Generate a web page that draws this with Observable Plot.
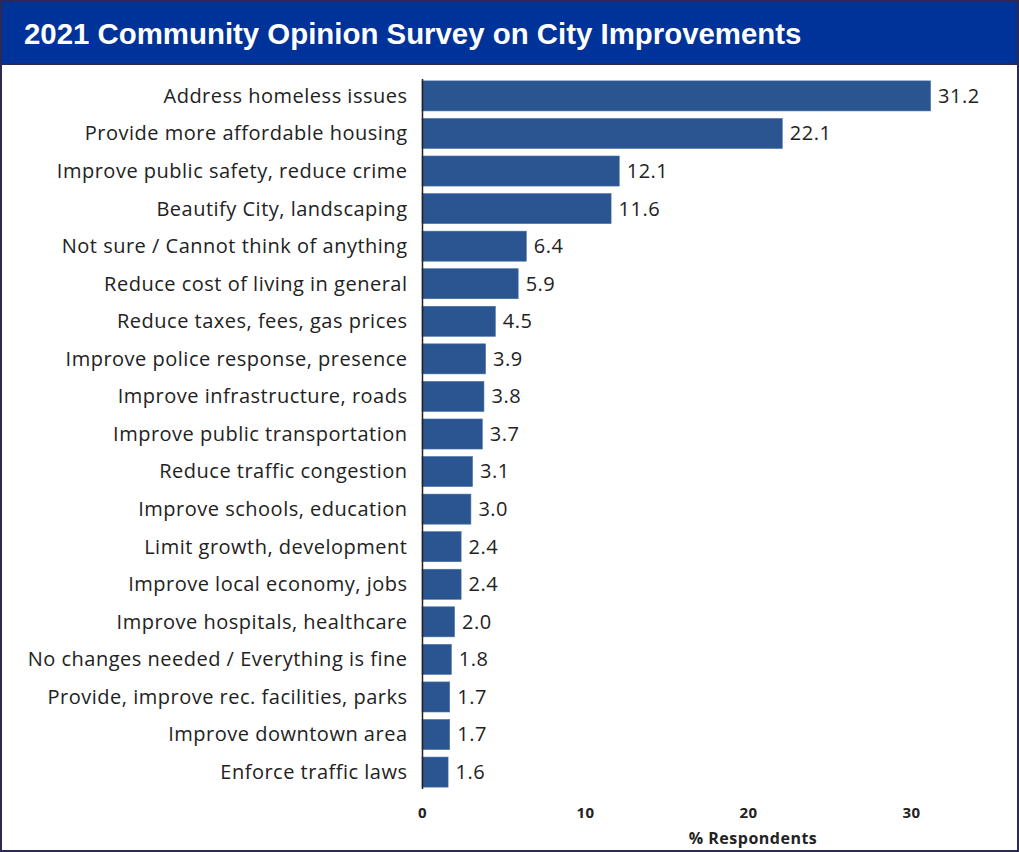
<!DOCTYPE html>
<html>
<head>
<meta charset="utf-8">
<script src="https://cdn.jsdelivr.net/npm/d3@7"></script>
<script src="https://cdn.jsdelivr.net/npm/@observablehq/plot@0.6"></script>
<style>
  html, body { margin: 0; padding: 0; background: #fff; }
  #frame {
    position: relative;
    width: 1015px; height: 848px;
    border: 2px solid #2b2a55;
    overflow: hidden;
    background: #fff;
  }
  #title {
    height: 61px;
    background: #003399;
    border-bottom: 2px solid #2b2a55;
    color: #fff;
    font-family: "Liberation Sans", Arial, sans-serif;
    font-weight: bold;
    font-size: 29.4px;
    line-height: 63px;
    padding-left: 22px;
    box-sizing: content-box;
  }
  #chart svg { display: block; }
  #chart svg text { letter-spacing: 0.5px; }
</style>
</head>
<body>
<div id="frame">
  <div id="title">2021 Community Opinion Survey on City Improvements</div>
  <div id="chart"></div>
</div>
<script>
const categories = [
  "Address homeless issues",
  "Provide more affordable housing",
  "Improve public safety, reduce crime",
  "Beautify City, landscaping",
  "Not sure / Cannot think of anything",
  "Reduce cost of living in general",
  "Reduce taxes, fees, gas prices",
  "Improve police response, presence",
  "Improve infrastructure, roads",
  "Improve public transportation",
  "Reduce traffic congestion",
  "Improve schools, education",
  "Limit growth, development",
  "Improve local economy, jobs",
  "Improve hospitals, healthcare",
  "No changes needed / Everything is fine",
  "Provide, improve rec. facilities, parks",
  "Improve downtown area",
  "Enforce traffic laws"
];
const values = [31.2, 22.1, 12.1, 11.6, 6.4, 5.9, 4.5, 3.9, 3.8, 3.7, 3.1, 3.0, 2.4, 2.4, 2.0, 1.8, 1.7, 1.7, 1.6];
const xTicks = [0, 10, 20, 30];
const xLabel = "% Respondents";

const data = categories.map((c, i) => ({category: c, value: values[i]}));
const labelFont = "'Open Sans', 'Noto Sans', sans-serif";

const chart = Plot.plot({
  width: 1015,
  height: 783,
  marginLeft: 420,
  marginRight: 0,
  marginTop: 14,
  marginBottom: 59,
  style: {fontFamily: labelFont, background: "#fff"},
  x: {domain: [0, 36.5], ticks: xTicks},
  y: {domain: categories, paddingInner: 0.2, paddingOuter: 0.05, round: false},
  marks: [
    Plot.barX(data, {x: "value", y: "category", fill: "#2a5590", stroke: "#4a72a8", strokeWidth: 0.6}),
    Plot.text(data, {x: "value", y: "category", text: d => d.value.toFixed(1), textAnchor: "start", dx: 7, fontSize: 20, fill: "#222"}),
    Plot.axisY({tickSize: 0, tickPadding: 15, fontSize: 20, label: null, fill: "#222"}),
    Plot.axisX({ticks: xTicks, tickSize: 0, tickPadding: 18, fontSize: 15, fontWeight: "bold", label: null, fill: "#222"}),
    Plot.text([xLabel], {frameAnchor: "bottom", dx: 33, dy: 54, fontSize: 16, fontWeight: "bold", fill: "#222"}),
    Plot.ruleX([0], {stroke: "#222", strokeWidth: 1.5}),
    Plot.ruleY([0], {stroke: "#222", strokeWidth: 1.5})
  ]
});
document.getElementById("chart").appendChild(chart);
</script>
</body>
</html>
